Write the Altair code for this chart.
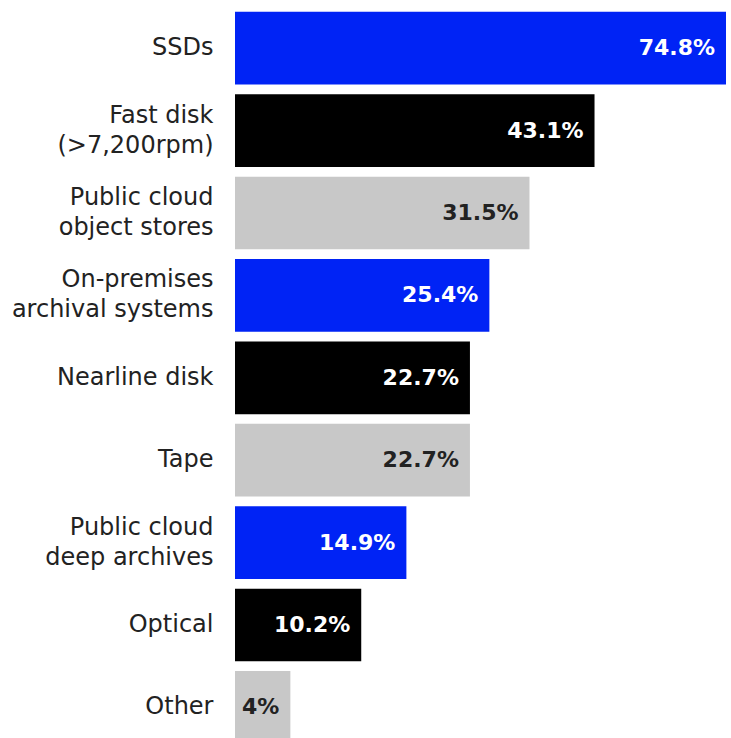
import altair as alt
import pandas as pd

categories = [
    "SSDs",
    "Fast disk\n(>7,200rpm)",
    "Public cloud\nobject stores",
    "On-premises\narchival systems",
    "Nearline disk",
    "Tape",
    "Public cloud\ndeep archives",
    "Optical",
    "Other",
]
values = [74.8, 43.1, 31.5, 25.4, 22.7, 22.7, 14.9, 10.2, 4.0]
value_labels = ["74.8%", "43.1%", "31.5%", "25.4%", "22.7%", "22.7%", "14.9%", "10.2%", "4%"]

palette = ["#0023F5", "#000000", "#C8C8C8"]
text_palette = ["#FFFFFF", "#FFFFFF", "#222222"]

df = pd.DataFrame({
    "category": categories,
    "value": values,
    "label": value_labels,
    "tone": [i % 3 for i in range(len(categories))],
})

x_scale = alt.Scale(type="symlog", constant=22, domain=[0, 74.8], nice=False, zero=True)
y_scale = alt.Scale(range=[0, 741.6], paddingInner=0.118, paddingOuter=0.059)

y_axis = alt.Axis(
    title=None,
    domain=False,
    ticks=False,
    grid=False,
    labelPadding=22,
    labelFont="DejaVu Sans",
    labelFontSize=24,
    labelColor="#222222",
    labelLineHeight=30,
    labelLimit=300,
    labelOffset={"expr": "indexof(datum.value, '\\n') >= 0 ? -15 : 0"},
    labelExpr="split(datum.label, '\\n')",
)

bars = alt.Chart(df).mark_bar().encode(
    x=alt.X("value:Q", scale=x_scale, axis=None),
    y=alt.Y("category:N", sort=categories, scale=y_scale, axis=y_axis),
    color=alt.Color("tone:O", scale=alt.Scale(domain=[0, 1, 2], range=palette), legend=None),
)

texts = alt.Chart(df).mark_text(
    align="right",
    baseline="middle",
    dx=-11,
    dy=0,
    font="DejaVu Sans",
    fontWeight="bold",
    fontSize=22,
).encode(
    x=alt.X("value:Q", scale=x_scale, axis=None),
    y=alt.Y("category:N", sort=categories, scale=y_scale, axis=y_axis),
    text="label:N",
    color=alt.Color("tone:O", scale=alt.Scale(domain=[0, 1, 2], range=text_palette), legend=None),
)

chart = (
    alt.layer(bars, texts)
    .resolve_scale(color="independent")
    .properties(
        width=491,
        height=731,
        background="white",
        autosize=alt.AutoSizeParams(type="none"),
        padding={"left": 235, "top": 7, "right": 5, "bottom": 0},
    )
    .configure_view(stroke="transparent", strokeWidth=0)
)

chart.save("out.html", embed_options={"renderer": "svg", "actions": False})
